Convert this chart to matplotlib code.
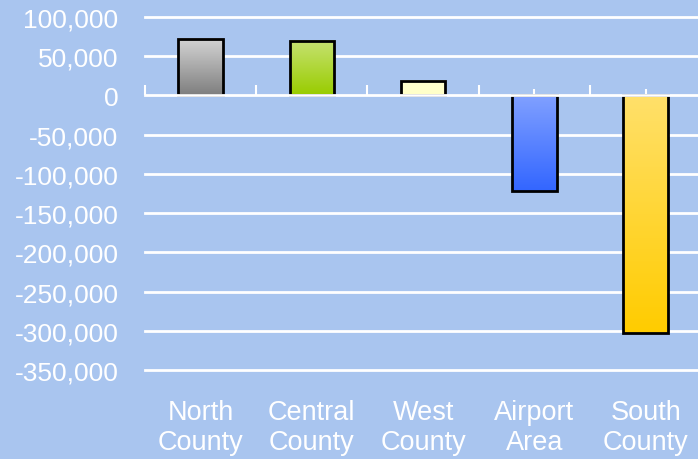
import numpy as np
import matplotlib.pyplot as plt
from matplotlib.colors import LinearSegmentedColormap
from matplotlib.transforms import blended_transform_factory

plt.rcParams['font.family'] = ['Liberation Sans', 'DejaVu Sans']

# Net change by area
regions = ["North\nCounty", "Central\nCounty", "West\nCounty", "Airport\nArea", "South\nCounty"]
values = [72000, 69000, 19000, -122000, -303000]
# gradient colours per bar: (light end, dark end)
grad_top = ["#d4d4d4", "#c6e271", "#ffffd0", "#80a0ff", "#ffe06a"]
grad_bottom = ["#7f7f7f", "#99cc00", "#ffffc8", "#3366ff", "#ffcc00"]
y_ticks = np.arange(-350000, 100001, 50000)

bg = "#a9c5ef"
fig = plt.figure(figsize=(6.98, 4.60), dpi=100, facecolor=bg)
ax = fig.add_axes([0.2077, 0.1935, 0.797, 0.7674], facecolor=bg)

x = np.arange(len(regions))
width = 0.4
for i, v in enumerate(values):
    cmap = LinearSegmentedColormap.from_list("g%d" % i, [grad_bottom[i], grad_top[i]])
    grad = np.linspace(0, 1, 100).reshape(-1, 1)
    ext = (i - width / 2, i + width / 2, min(0, v), max(0, v))
    ax.imshow(grad, cmap=cmap, aspect='auto', extent=ext, origin='lower', zorder=3)
    ax.bar(i, v, width=width, facecolor='none', edgecolor='black', linewidth=2, zorder=4)

ax.set_xlim(-0.5, len(regions) - 0.5)
ax.set_ylim(-350000, 100000)

for yv in y_ticks:
    if yv != 0:
        ax.axhline(yv, color='white', linewidth=2, zorder=1, clip_on=False)

for s in ['top', 'right', 'left']:
    ax.spines[s].set_visible(False)
ax.spines['bottom'].set_position(('data', 0))
ax.spines['bottom'].set_color('white')
ax.spines['bottom'].set_linewidth(2)
ax.spines['bottom'].set_zorder(5)

ax.set_xticks(np.arange(-0.5, len(regions), 1.0))
ax.set_xticklabels([])
ax.set_xticks(x, minor=True)
ax.tick_params(axis='x', which='major', direction='in', length=7, width=1.5, color='white')
ax.tick_params(axis='x', which='minor', direction='in', length=4, width=1.5, color='white')

ax.set_yticks(y_ticks)
ax.set_yticklabels(["{:,}".format(t) for t in y_ticks], fontsize=19, color='white')
ax.tick_params(axis='y', length=0, pad=19)

trans = blended_transform_factory(ax.transData, ax.transAxes)
for i, name in enumerate(regions):
    ax.text(i, -0.082, name, transform=trans, ha='center', va='top',
            fontsize=19.5, color='white', linespacing=1.22)

plt.savefig("out.png", dpi=100, facecolor=bg)
